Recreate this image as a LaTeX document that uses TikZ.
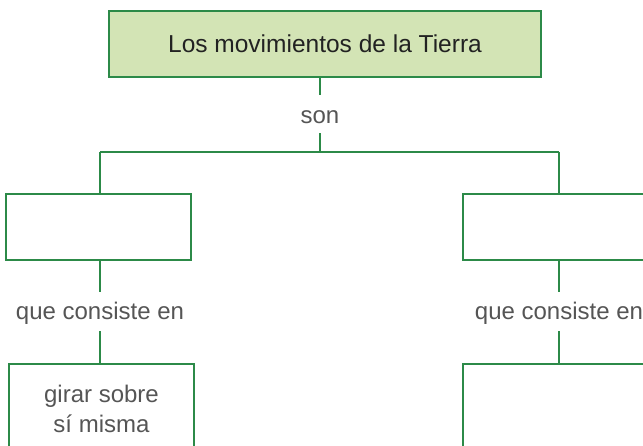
\documentclass[tikz,border=0pt]{standalone}
\usepackage{fontspec}
\setmainfont{Liberation Sans}
\definecolor{lgreen}{HTML}{2C8A48}
\definecolor{lfill}{HTML}{D3E4B5}
\definecolor{ltext}{HTML}{555555}
\definecolor{ttext}{HTML}{222222}
\begin{document}
\begin{tikzpicture}[x=1pt,y=-1pt,
  box/.style={draw=lgreen,line width=1.1pt,minimum width=185pt,minimum height=66pt,inner sep=0pt},
  lbl/.style={text=ltext,font=\fontsize{24}{29}\selectfont,inner sep=0pt},
  conn/.style={draw=lgreen,line width=1.1pt}]
\useasboundingbox (0,0) rectangle (643,446);
\clip (0,0) rectangle (643,446);
\node[box,fill=lfill,minimum width=432pt,text=ttext,font=\fontsize{24.5}{29}\selectfont] (top) at (325,44) {Los movimientos de la Tierra};
\node[lbl,text height=28.2pt,text depth=9.8pt] (son) at (320,114) {son};
\coordinate (hL) at (100,152);
\coordinate (hR) at (559,152);
\node[box] (L1) at (98.5,227) {};
\node[box,minimum width=192pt] (R1) at (559,227) {};
\node[lbl,text height=27.2pt,text depth=11.8pt] (qL) at (100,311.5) {que consiste en};
\node[lbl,text height=27.2pt,text depth=11.8pt] (qR) at (559,311.5) {que consiste en};
\node[box,minimum height=116pt] (L2) at (101.5,422) {};
\node[text=ltext,align=center,font=\fontsize{24}{30}\selectfont,inner sep=0pt] (L2t) at (101.5,409) {girar sobre\\sí misma};
\node[box,minimum width=192pt,minimum height=116pt] (R2) at (559,422) {};
\draw[conn] (top.south -| son) -- (son.north);
\draw[conn] (son.south) -- (son.south |- hL);
\draw[conn] (hL) -- (hR);
\draw[conn] (hL) -- (hL |- L1.north);
\draw[conn] (hR) -- (hR |- R1.north);
\draw[conn] (L1.south -| qL) -- (qL.north);
\draw[conn] (qL.south) -- (qL.south |- L2.north);
\draw[conn] (R1.south -| qR) -- (qR.north);
\draw[conn] (qR.south) -- (qR.south |- R2.north);
\end{tikzpicture}
\end{document}
